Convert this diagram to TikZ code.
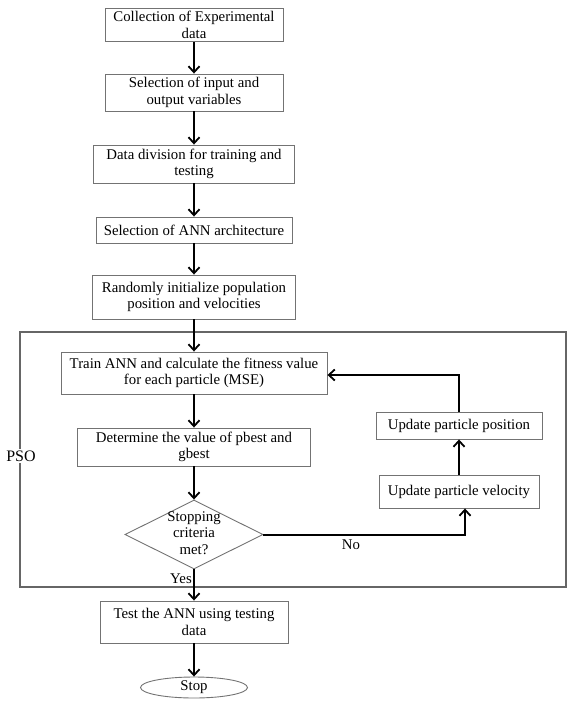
\documentclass[tikz,border=0pt]{standalone}
\usepackage{fontspec}
\setmainfont{Liberation Serif}
\usetikzlibrary{shapes.geometric,arrows.meta,calc}
\begin{document}
\begin{tikzpicture}[x=1pt,y=-1pt,
  box/.style={draw=black!55, line width=0.9pt, inner sep=0pt, align=center,
    font=\fontsize{14.8}{16.6}\selectfont},
  plain/.style={inner sep=0pt, align=center, font=\fontsize{14.8}{16.6}\selectfont},
  arr/.style={draw=black, line width=2pt,
    -{Straight Barb[length=6pt,width=11pt,line width=1.8pt]}},
  frame/.style={draw=black!60, line width=1.2pt}]
\useasboundingbox (0,0) rectangle (571,701);

% PSO frame
\draw[frame] (20,332) rectangle (566,587);
\node[plain, fill=white, inner sep=2pt, font=\fontsize{16}{18}\selectfont] (pso) at (21,456) {PSO};

% main column
\node[box, minimum width=178, minimum height=33] (b1) at (194,25) {Collection of Experimental\\data};
\node[box, minimum width=178, minimum height=37] (b2) at (194,92.5) {Selection of input and\\output variables};
\node[box, minimum width=201, minimum height=38] (b3) at (194,164) {Data division for training and\\testing};
\node[box, minimum width=196, minimum height=26] (b4) at (194,230) {Selection of ANN architecture};
\node[box, minimum width=203, minimum height=44] (b5) at (194,297) {Randomly initialize population\\position and velocities};
\node[box, minimum width=266, minimum height=42] (train) at (194,373) {Train ANN and calculate the fitness value\\for each particle (MSE)};
\node[box, minimum width=233, minimum height=38] (det) at (194,447) {Determine the value of pbest and\\gbest};
\node[draw=black!55, line width=0.9pt, shape=diamond, inner sep=0pt,
      minimum width=138, minimum height=69] (dia) at (194,534.5) {};
\node[plain] (diatext) at (194,533) {Stopping\\criteria\\met?};
\node[box, minimum width=188, minimum height=42] (test) at (194,622) {Test the ANN using testing\\data};
\node[draw=black!55, line width=0.9pt, shape=ellipse, inner sep=0pt,
      minimum width=107, minimum height=21, font=\fontsize{14.8}{16.6}\selectfont] (stop) at (194,687.5) {Stop};

% right loop
\node[box, minimum width=166, minimum height=27] (pos) at (459,425.5) {Update particle position};
\node[box, minimum width=160, minimum height=33] (vel) at (459,491.5) {Update particle velocity};

% labels
\node[plain] (no) at (351,545) {No};
\node[plain] (yes) at (181,579) {Yes};

% connectors
\draw[arr] (b1) -- (b2);
\draw[arr] (b2) -- (b3);
\draw[arr] (b3) -- (b4);
\draw[arr] (b4) -- (b5);
\draw[arr] (b5) -- (train);
\draw[arr] (train) -- (det);
\draw[arr] (det) -- (dia);
\draw[arr] (dia) -- (test);
\draw[arr] (test) -- (stop);
\draw[arr] (dia.east) -| ([xshift=6pt]vel.south);
\draw[arr] (vel) -- (pos);
\draw[arr] (pos.north) |- ([yshift=-2pt]train.east);
\end{tikzpicture}
\end{document}
